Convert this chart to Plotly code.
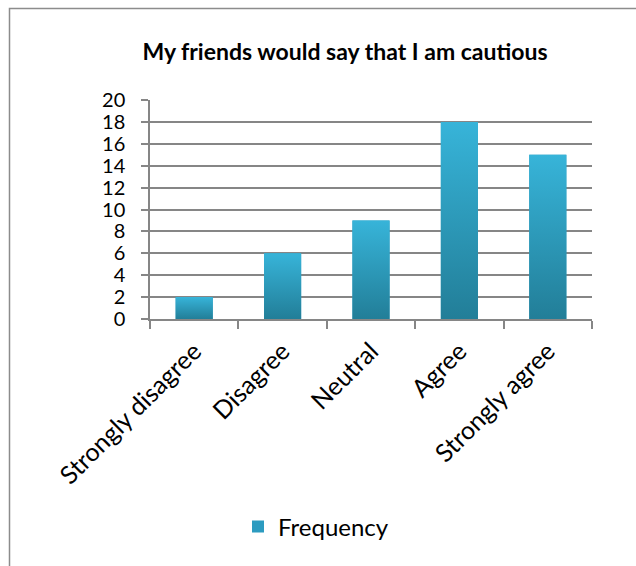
import plotly.graph_objects as go

categories = ["Strongly disagree", "Disagree", "Neutral", "Agree", "Strongly agree"]
frequency = [2, 6, 9, 18, 15]
y_ticks = list(range(0, 21, 2))

W, H = 636, 566
L, R, T, B = 150, 44, 100, 247
pw, ph = W - L - R, H - T - B
BAR_W = 0.42
TOP_COLOR, BOTTOM_COLOR = "#37b4d9", "#227e98"

def px_x(p):
    return (p - L) / pw

def px_y(p):
    return (H - B - p) / ph

fig = go.Figure()
fig.add_trace(go.Bar(
    x=categories, y=frequency, name="Frequency",
    marker=dict(color="#2c9bc0", line=dict(width=0)),
    width=BAR_W,
))

# vertical gradient fill over each bar, on a hidden linear axis aligned with the categories
for i, v in enumerate(frequency):
    x0, x1 = i - BAR_W / 2, i + BAR_W / 2
    fig.add_trace(go.Scatter(
        x=[x0, x1, x1, x0, x0], y=[0, 0, v, v, 0],
        xaxis="x2", mode="lines", line=dict(width=0),
        fill="toself",
        fillgradient=dict(type="vertical",
                          colorscale=[[0, BOTTOM_COLOR], [1, TOP_COLOR]]),
        showlegend=False, hoverinfo="skip",
    ))

font_family = "Lato, 'Open Sans', sans-serif"
fig.update_layout(
    width=W, height=H,
    margin=dict(l=L, r=R, t=T, b=B),
    paper_bgcolor="white", plot_bgcolor="white",
    font=dict(family=font_family, color="#000000"),
    title=dict(text="<b>My friends would say that I am cautious</b>",
               x=345 / W, xanchor="center",
               y=1 - 52 / H, yanchor="middle",
               font=dict(size=23, family=font_family, color="#000")),
    showlegend=True,
    legend=dict(orientation="h", x=px_x(238), y=px_y(527),
                xanchor="left", yanchor="middle",
                font=dict(size=24, family=font_family, color="#000")),
    xaxis=dict(
        type="category", tickson="boundaries", ticks="outside", ticklen=8,
        tickcolor="#868686", tickwidth=1.5,
        showline=True, linecolor="#868686", linewidth=1.5,
        showgrid=False, tickangle=-45, ticklabelstandoff=6,
        range=[-0.5, len(categories) - 0.5],
        tickfont=dict(size=25, family=font_family, color="#000"),
    ),
    xaxis2=dict(overlaying="x", range=[-0.5, len(categories) - 0.5],
                visible=False, fixedrange=True),
    yaxis=dict(
        range=[0, 20], tickvals=y_ticks, ticks="outside", ticklen=7,
        tickcolor="#868686", tickwidth=1.5,
        showline=True, linecolor="#868686", linewidth=1.5,
        showgrid=True, gridcolor="#868686", gridwidth=1.5,
        zeroline=False, ticklabelstandoff=12,
        tickfont=dict(size=20, family=font_family, color="#000"),
    ),
)
# outer chart border
fig.add_shape(type="rect", xref="paper", yref="paper",
              x0=px_x(9.5), x1=px_x(700), y0=px_y(600), y1=px_y(8.5),
              line=dict(color="#8c8c8c", width=1.5), fillcolor="rgba(0,0,0,0)",
              layer="below")

fig.write_html("out.html")
